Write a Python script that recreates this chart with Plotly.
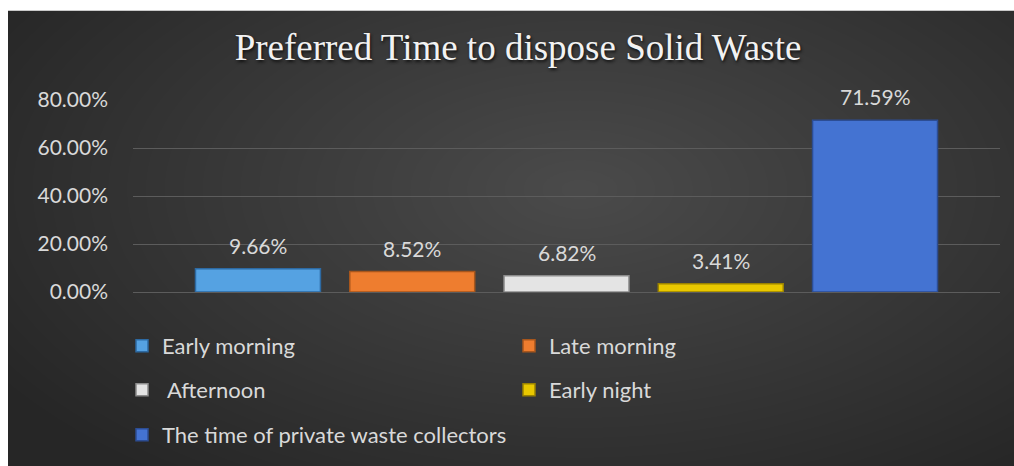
import plotly.graph_objects as go

categories = ["Early morning", "Late morning", "Afternoon", "Early night",
              "The time of private waste collectors"]
legend_labels = ["Early morning", "Late morning", " Afternoon", "Early night",
                 "The time of private waste collectors"]
values = [0.0966, 0.0852, 0.0682, 0.0341, 0.7159]
y_ticks = [0, 0.2, 0.4, 0.6, 0.8]
title_text = "Preferred Time to dispose Solid Waste"

fills = ["#55a2e2", "#ee7d2f", "#e4e4e4", "#e9c800", "#4473d2"]
edges = ["#2d6aa3", "#a8561c", "#8c8c8c", "#9a8200", "#2c4d94"]
legend_ids = ["legend", "legend", "legend2", "legend2", "legend3"]

W, H = 1014, 466
L, R, T, B = 133, 14, 100, 173
pw, ph = W - L - R, H - T - B


def px_x(px):
    return (px - L) / pw


def px_y(py):
    return (H - B - py) / ph


FONT = "Lato, Liberation Sans, sans-serif"

fig = go.Figure()
for cat, lab, v, fc, ec, lg in zip(categories, legend_labels, values, fills, edges, legend_ids):
    fig.add_trace(go.Bar(
        x=[cat], y=[v], name=lab, width=0.81,
        marker=dict(color=fc, line=dict(color=ec, width=1.5)),
        legend=lg, hoverinfo="skip",
    ))
    fig.add_annotation(
        x=cat, y=v, text=f"{v*100:.2f}%", showarrow=False,
        yanchor="bottom", yshift=9,
        font=dict(family=FONT, size=21, color="#d9d9d9"),
    )

shapes = []
shapes.append(dict(type="rect", xref="paper", yref="paper", layer="below",
                   x0=px_x(8), x1=px_x(W + 5), y0=px_y(H + 5), y1=px_y(10),
                   fillcolor="#262626", line=dict(width=0)))
# radial gradient approximation
cx, cy = 580, 190
n = 36
for i in range(n):
    f = 1 - i / n
    rx = 680 * f
    ry = 360 * f
    shapes.append(dict(type="circle", xref="paper", yref="paper", layer="below",
                       x0=px_x(cx - rx), x1=px_x(cx + rx),
                       y0=px_y(cy + ry), y1=px_y(cy - ry),
                       fillcolor="rgba(255,255,255,0.0075)", line=dict(width=0)))
shapes.append(dict(type="rect", xref="paper", yref="paper", layer="below",
                   x0=px_x(-5), x1=px_x(8), y0=px_y(H + 5), y1=px_y(-5),
                   fillcolor="#ffffff", line=dict(width=0)))
shapes.append(dict(type="rect", xref="paper", yref="paper", layer="below",
                   x0=px_x(-5), x1=px_x(W + 5), y0=px_y(10), y1=px_y(-5),
                   fillcolor="#ffffff", line=dict(width=0)))

legend_font = dict(family=FONT, size=22, color="#d9d9d9")
common_leg = dict(orientation="h", xanchor="left", yanchor="middle",
                  x=px_x(122), bgcolor="rgba(0,0,0,0)", font=legend_font,
                  entrywidth=342, entrywidthmode="pixels", itemclick=False)

fig.update_layout(
    width=W, height=H,
    margin=dict(l=L, r=R, t=T, b=B, pad=0),
    paper_bgcolor="#ffffff",
    plot_bgcolor="rgba(0,0,0,0)",
    barmode="overlay",
    shapes=shapes,
    title=dict(text=title_text, x=px_x(518), xref="paper", xanchor="center",
               y=1 - 47 / H, yanchor="middle",
               font=dict(family="Liberation Serif, Times New Roman, serif", size=37,
                         color="#f2f2f2", shadow="1px 2px 3px #111111")),
    xaxis=dict(range=[-0.81, 4.81], showticklabels=False, showgrid=False,
               zeroline=False, showline=False, fixedrange=True),
    yaxis=dict(range=[0, 0.8], tickvals=y_ticks, tickformat=".2%",
               showgrid=True, gridcolor="#5c5c5c", gridwidth=1,
               zeroline=True, zerolinecolor="#5c5c5c", zerolinewidth=1,
               showline=False, ticks="", ticklabelstandoff=24,
               tickfont=dict(family=FONT, size=21, color="#d9d9d9")),
    legend=dict(**common_leg, y=px_y(346)),
    legend2=dict(**common_leg, y=px_y(390)),
    legend3=dict(**common_leg, y=px_y(435)),
    showlegend=True,
)

fig.write_html("out.html", config={"displayModeBar": False},
               post_script="document.body.style.margin='0';document.body.style.overflow='hidden';")
